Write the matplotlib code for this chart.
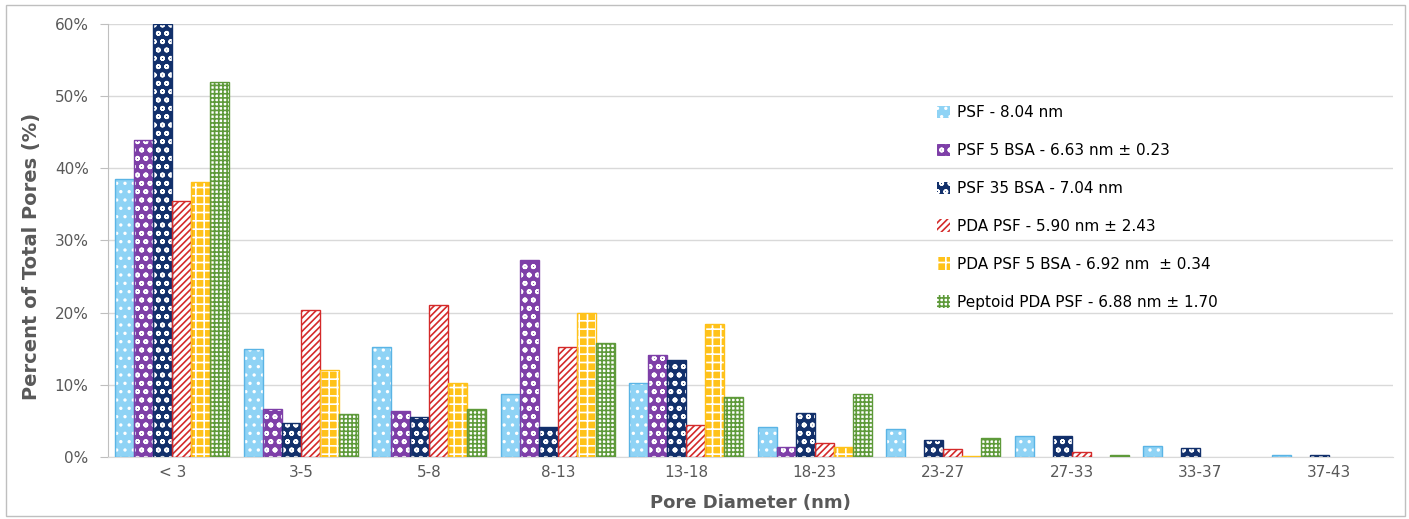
import numpy as np
import matplotlib.pyplot as plt
from matplotlib.patches import Rectangle
from matplotlib.ticker import PercentFormatter

# Pore size bins and percent of total pores for each membrane
bins = ['< 3', '3-5', '5-8', '8-13', '13-18', '18-23', '23-27', '27-33', '33-37', '37-43']
psf = [38.5, 15.0, 15.3, 8.7, 10.2, 4.2, 3.9, 2.95, 1.5, 0.25]
psf_5bsa = [43.9, 6.6, 6.4, 27.3, 14.2, 1.4, 0.0, 0.0, 0.0, 0.0]
psf_35bsa = [60.0, 4.7, 5.6, 4.1, 13.4, 6.1, 2.4, 2.9, 1.2, 0.25]
pda_psf = [35.5, 20.4, 21.1, 15.3, 4.5, 1.9, 1.1, 0.7, 0.0, 0.0]
pda_psf_5bsa = [38.1, 12.1, 10.2, 20.0, 18.4, 1.4, 0.15, 0.0, 0.0, 0.0]
peptoid = [51.9, 5.9, 6.7, 15.8, 8.3, 8.7, 2.6, 0.25, 0.0, 0.0]

labels = ['PSF - 8.04 nm',
          'PSF 5 BSA - 6.63 nm \u00b1 0.23',
          'PSF 35 BSA - 7.04 nm',
          'PDA PSF - 5.90 nm \u00b1 2.43',
          'PDA PSF 5 BSA - 6.92 nm  \u00b1 0.34',
          'Peptoid PDA PSF - 6.88 nm \u00b1 1.70']
series = [psf, psf_5bsa, psf_35bsa, pda_psf, pda_psf_5bsa, peptoid]

# (face, hatch colour, hatch, outline)
styles = [
    ('#8FD3F5', 'white', '..', '#5AB4E5'),
    ('#7E3FA8', 'white', 'oo', '#7E3FA8'),
    ('#12306B', 'white', 'oo', '#12306B'),
    ('white', '#D42A2A', '/////', '#D42A2A'),
    ('#FFC21A', 'white', '++', '#FFC21A'),
    ('white', '#5E9A3A', '++++', '#5E9A3A'),
]

plt.rcParams['hatch.linewidth'] = 1.2

fig = plt.figure(figsize=(14.09, 5.19), dpi=100)
ax = fig.add_axes([0.0767, 0.1195, 0.912, 0.8343])

x = np.arange(len(bins))
w = 0.148
handles = []
for i, (vals, (fc, hc, h, ec)) in enumerate(zip(series, styles)):
    pos = x + (i - 2.5) * w
    v = np.array(vals, dtype=float)
    v[v == 0] = np.nan  # empty bins draw nothing
    b = ax.bar(pos, v, w, color=fc, edgecolor=hc, hatch=h, linewidth=0, zorder=3)
    ax.bar(pos, v, w, fill=False, edgecolor=ec, linewidth=1.0, zorder=4)
    handles.append(b)

ax.set_xlim(-0.5, len(bins) - 0.5)
ax.set_ylim(0, 60)
ax.set_yticks(np.arange(0, 61, 10))
ax.yaxis.set_major_formatter(PercentFormatter(decimals=0))
ax.set_xticks(x)
ax.set_xticklabels(bins)
ax.grid(axis='y', color='#D9D9D9', linewidth=1, zorder=0)
for s in ['top', 'right']:
    ax.spines[s].set_visible(False)
ax.spines['left'].set_color('#BFBFBF')
ax.spines['bottom'].set_color('#D9D9D9')
ax.tick_params(axis='y', colors='#BFBFBF', labelcolor='#595959', labelsize=11, length=6, pad=8)
ax.tick_params(axis='x', length=0, labelcolor='#595959', labelsize=11, pad=6)

ax.set_xlabel('Pore Diameter (nm)', fontsize=13, fontweight='bold', color='#595959', labelpad=10)
ax.set_ylabel('Percent of Total Pores (%)', fontsize=14, fontweight='bold', color='#595959')
ax.yaxis.set_label_coords(-0.052, 0.462)

fig.legend(handles, labels, loc='upper left', bbox_to_anchor=(0.655, 0.8235), frameon=False,
           fontsize=11, labelspacing=1.5, handlelength=0.9, handleheight=0.9,
           handletextpad=0.4, labelcolor='black')

fig.patches.append(Rectangle((0.004, 0.006), 0.993, 0.985, transform=fig.transFigure,
                             fill=False, edgecolor='#BFBFBF', linewidth=1))

fig.savefig('out.png', dpi=100)
